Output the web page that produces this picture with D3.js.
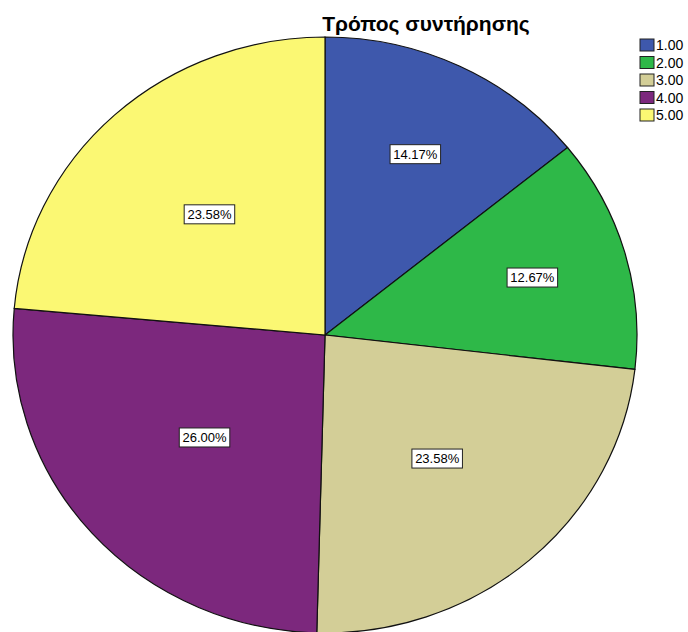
<!DOCTYPE html>
<html>
<head>
<meta charset="utf-8">
<script src="https://cdn.jsdelivr.net/npm/d3@7/dist/d3.min.js"></script>
<style>
  html, body { margin: 0; padding: 0; background: #ffffff; }
  svg { display: block; font-family: "Liberation Sans", Arial, sans-serif; }
</style>
</head>
<body>
<svg id="chart" width="688" height="632"></svg>
<script>
// Data: maintenance method shares (percent)
const categories = ["1.00", "2.00", "3.00", "4.00", "5.00"];
const percents = [14.17, 12.67, 23.58, 26.00, 23.58];
const colors = ["#3e58ac", "#2eb848", "#d3ce97", "#7c287d", "#fbf873"];
const title = "Τρόπος συντήρησης";

const W = 688, H = 632;
const cx = 325, cy = 335;   // pie centre
const ry = 298, rx = 312;   // slightly wide pie
const sx = rx / ry;

const svg = d3.select("#chart");

const data = categories.map((c, i) => ({ cat: c, value: percents[i], color: colors[i] }));

const pie = d3.pie().value(d => d.value).sort(null);
const arcs = pie(data);
const arc = d3.arc().innerRadius(0).outerRadius(ry);

const gPie = svg.append("g")
  .attr("transform", `translate(${cx},${cy}) scale(${sx},1)`);

gPie.selectAll("path")
  .data(arcs)
  .enter().append("path")
  .attr("d", arc)
  .attr("fill", d => d.data.color)
  .attr("stroke", "#111")
  .attr("stroke-width", 1.2)
  .attr("vector-effect", "non-scaling-stroke");

// Percentage labels: smaller slices get their label pushed further out
const labelFrac = d3.scaleLinear().domain([12.67, 26.0]).range([0.692, 0.517]);
const fmt = d3.format(".2f");

const gLab = svg.append("g");
arcs.forEach(a => {
  const mid = (a.startAngle + a.endAngle) / 2 - (a.data.value < 14 ? 0 : 0);
  const r = labelFrac(a.data.value) * ry;
  const x = cx + sx * r * Math.sin(mid);
  const y = cy - r * Math.cos(mid);
  const g = gLab.append("g").attr("transform", `translate(${x},${y})`);
  const t = g.append("text")
    .attr("text-anchor", "middle")
    .attr("dy", "0.36em")
    .attr("font-size", 13)
    .attr("fill", "#000")
    .text(fmt(a.data.value) + "%");
  const bb = t.node().getBBox();
  g.insert("rect", "text")
    .attr("x", -bb.width / 2 - 3)
    .attr("y", -9.5)
    .attr("width", bb.width + 6)
    .attr("height", 19)
    .attr("fill", "#ffffff")
    .attr("stroke", "#222")
    .attr("stroke-width", 1);
});

// Title
svg.append("text")
  .attr("x", 426)
  .attr("y", 31)
  .attr("text-anchor", "middle")
  .attr("font-size", 21)
  .attr("font-weight", "bold")
  .attr("fill", "#000")
  .text(title);

// Legend
const legendY = d3.scaleBand().domain(categories).range([39, 39 + 17.5 * categories.length]);
const gLeg = svg.append("g");
const rows = gLeg.selectAll("g")
  .data(data)
  .enter().append("g")
  .attr("transform", d => `translate(640,${legendY(d.cat)})`);
rows.append("rect")
  .attr("width", 14)
  .attr("height", 12)
  .attr("fill", d => d.color)
  .attr("stroke", "#222")
  .attr("stroke-width", 1);
rows.append("text")
  .attr("x", 16)
  .attr("y", 6)
  .attr("dy", "0.36em")
  .attr("font-size", 14)
  .attr("fill", "#000")
  .text(d => d.cat);
</script>
</body>
</html>
